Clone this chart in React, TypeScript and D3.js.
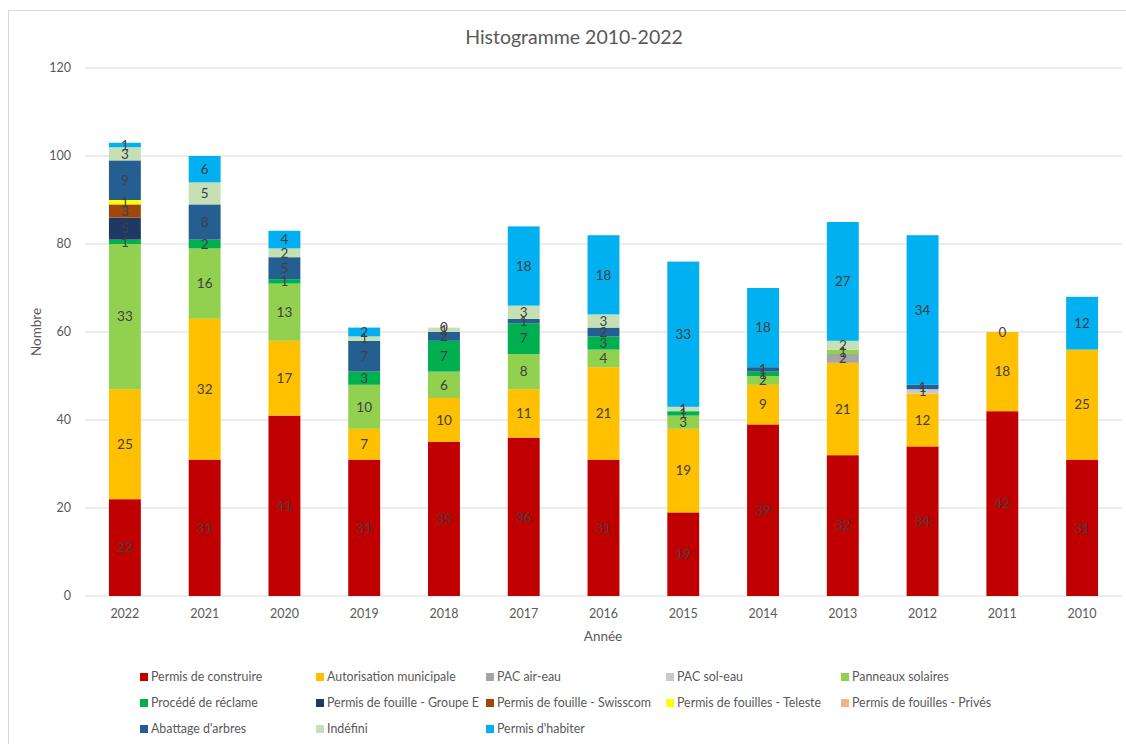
import React from "react";
import * as d3 from "d3";

const years = ["2022","2021","2020","2019","2018","2017","2016","2015","2014","2013","2012","2011","2010"];
type V = number | null;
const _ = null;

const permisConstruire: V[] = [22,31,41,31,35,36,31,19,39,32,34,42,31];
const autorisationMunicipale: V[] = [25,32,17,7,10,11,21,19,9,21,12,18,25];
const pacAirEau: V[] = [_,_,_,_,_,_,_,_,_,2,_,_,_];
const pacSolEau: V[] = [_,_,_,_,_,_,_,_,_,_,1,_,_];
const panneauxSolaires: V[] = [33,16,13,10,6,8,4,3,2,1,_,_,_];
const procedeReclame: V[] = [1,2,1,3,7,7,3,1,1,_,_,_,_];
const fouilleGroupeE: V[] = [5,_,_,_,_,_,_,_,_,_,_,_,_];
const fouilleSwisscom: V[] = [3,_,_,_,_,_,_,_,_,_,_,_,_];
const fouillesTeleste: V[] = [1,_,_,_,_,_,_,_,_,_,_,_,_];
const fouillesPrives: V[] = [_,_,_,_,_,_,_,_,_,_,_,_,_];
const abattageArbres: V[] = [9,8,5,7,2,1,2,_,1,_,1,_,_];
const indefini: V[] = [3,5,2,1,1,3,3,1,_,2,_,_,_];
const permisHabiter: V[] = [1,6,4,2,0,18,18,33,18,27,34,0,12];

const yTicks = [0,20,40,60,80,100,120];

const series = [
  { name: "Permis de construire", values: permisConstruire, color: "#C00000" },
  { name: "Autorisation municipale", values: autorisationMunicipale, color: "#FFC000" },
  { name: "PAC air-eau", values: pacAirEau, color: "#A5A5A5" },
  { name: "PAC sol-eau", values: pacSolEau, color: "#C9C9C9" },
  { name: "Panneaux solaires", values: panneauxSolaires, color: "#92D050" },
  { name: "Procédé de réclame", values: procedeReclame, color: "#00B050" },
  { name: "Permis de fouille - Groupe E", values: fouilleGroupeE, color: "#203864" },
  { name: "Permis de fouille - Swisscom", values: fouilleSwisscom, color: "#9E480E" },
  { name: "Permis de fouilles - Teleste", values: fouillesTeleste, color: "#FFFF00" },
  { name: "Permis de fouilles - Privés", values: fouillesPrives, color: "#F4B183" },
  { name: "Abattage d'arbres", values: abattageArbres, color: "#255E91" },
  { name: "Indéfini", values: indefini, color: "#C5E0B4" },
  { name: "Permis d'habiter", values: permisHabiter, color: "#00B0F0" },
];

const FONT = "Lato, 'Open Sans', sans-serif";

export default function App() {
  const x = d3.scaleBand<string>().domain(years).range([85, 1122]).paddingInner(0.6).paddingOuter(0.3);
  const y = d3.scaleLinear().domain([0, 120]).range([596, 68]);

  const table = years.map((yr, i) => {
    const row: Record<string, number | string> = { year: yr };
    series.forEach((s) => { row[s.name] = s.values[i] ?? 0; });
    return row;
  });
  const stack = d3.stack<Record<string, number | string>>().keys(series.map((s) => s.name)).value((d, k) => d[k] as number);
  const stacked = stack(table);

  const legendCols = [140, 316, 486, 666, 841];
  const legendRows = [677, 703, 729];

  return (
    <svg width={1126} height={744} style={{ position: "absolute", left: 0, top: 0, background: "#fff" }} fontFamily={FONT}>
      <rect x={8.5} y={10.5} width={1130} height={760} fill="#fff" stroke="#d9d9d9" />
      <text x={574} y={44} textAnchor="middle" fontSize={19.5} fill="#595959">Histogramme 2010-2022</text>
      {yTicks.map((t) => (
        <g key={t}>
          <line x1={85} x2={1122} y1={y(t)} y2={y(t)} stroke="#d9d9d9" strokeWidth={1} />
          <text x={71} y={y(t)} dy="0.35em" textAnchor="end" fontSize={12.5} fill="#595959">{t}</text>
        </g>
      ))}
      <text transform={`translate(41,${y(60)}) rotate(-90)`} textAnchor="middle" fontSize={13.5} fill="#595959">Nombre</text>
      {stacked.map((layer, si) => (
        <g key={layer.key}>
          {layer.map((d, i) => {
            const v = series[si].values[i];
            if (v === null || v === 0) return null;
            return (
              <rect key={i} x={x(years[i])} width={x.bandwidth()} y={y(d[1])} height={y(d[0]) - y(d[1])} fill={series[si].color} />
            );
          })}
        </g>
      ))}
      {stacked.map((layer, si) => (
        <g key={"l" + layer.key}>
          {layer.map((d, i) => {
            const v = series[si].values[i];
            if (v === null) return null;
            const cx = (x(years[i]) as number) + x.bandwidth() / 2;
            const cy = (y(d[0]) + y(d[1])) / 2;
            return (
              <text key={i} x={cx} y={cy} dy="0.35em" textAnchor="middle" fontSize={13.5} fill="#404040">{v}</text>
            );
          })}
        </g>
      ))}
      {years.map((yr) => (
        <text key={yr} x={(x(yr) as number) + x.bandwidth() / 2} y={618} textAnchor="middle" fontSize={12.5} fill="#595959">{yr}</text>
      ))}
      <text x={603} y={641} textAnchor="middle" fontSize={13.5} fill="#595959">Année</text>
      {series.map((s, i) => {
        const col = i % 5;
        const row = Math.floor(i / 5);
        const lx = legendCols[col];
        const ly = legendRows[row];
        return (
          <g key={s.name}>
            <rect x={lx} y={ly - 4} width={8} height={8} fill={s.color} />
            <text x={lx + 11} y={ly} dy="0.35em" fontSize={12.4} fill="#595959">{s.name}</text>
          </g>
        );
      })}
    </svg>
  );
}
